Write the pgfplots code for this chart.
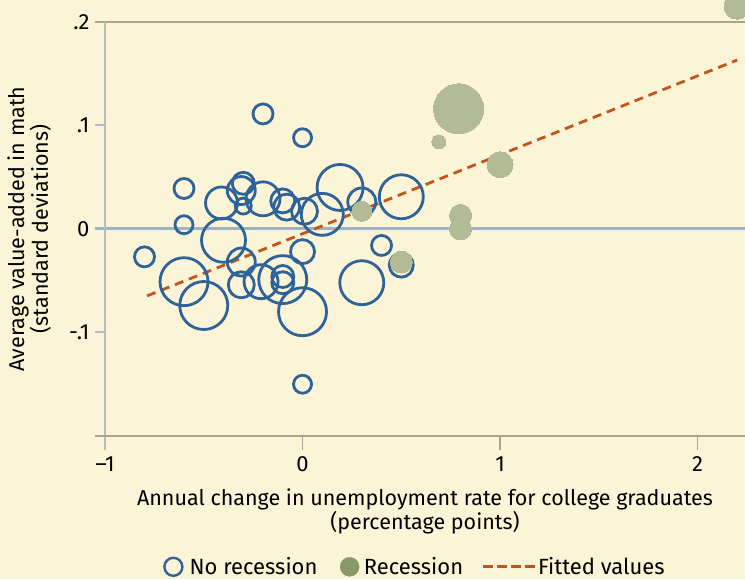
\documentclass[border=0pt]{standalone}
\usepackage{pgfplots}
\pgfplotsset{compat=1.18}
\usepackage{fontspec}
\setmainfont{Fira Sans}
\definecolor{bg}{HTML}{FCF4D6}
\definecolor{cblue}{HTML}{2E6399}
\definecolor{gfill}{HTML}{B3BB96}
\definecolor{lgreen}{HTML}{87996A}
\definecolor{fitc}{HTML}{C0561C}
\definecolor{ygray}{HTML}{B4BDBF}
\definecolor{xgray}{HTML}{A8A598}
\definecolor{zgray}{HTML}{9DB2C4}

\pgfplotstableread{
x y r
-0.20 0.111 10
0.00 0.088 9
-0.60 0.039 10
-0.60 0.004 9
-0.80 -0.027 10
-0.41 0.025 16
-0.30 0.044 11
-0.31 0.037 14
-0.30 0.022 8
-0.20 0.029 17
-0.10 0.027 12
-0.08 0.021 13
0.01 0.017 13
0.10 0.014 21
0.19 0.040 23
0.30 0.026 14
0.50 0.031 22
-0.40 -0.011 22
-0.60 -0.051 24
-0.50 -0.074 24
-0.31 -0.032 14
-0.31 -0.054 13
-0.21 -0.051 17
-0.10 -0.049 24
-0.10 -0.046 11
-0.10 -0.052 11
0.00 -0.022 12
0.00 -0.080 24
0.30 -0.052 22
0.40 -0.016 10
0.50 -0.035 12
0.00 -0.150 9
}\norec

\pgfplotstableread{
x y r
0.30 0.017 10
0.50 -0.032 11
0.79 0.116 25
0.69 0.084 7
1.00 0.062 13
0.80 0.013 11
0.80 0.000 11
2.20 0.215 13
}\rec

\begin{document}
\begin{tikzpicture}
\fill[bg] (-105pt,-143pt) rectangle (640pt,436pt);
\begin{axis}[
  scale only axis, width=640pt, height=436pt,
  xmin=-1, xmax=2.24, ymin=-0.2, ymax=0.221,
  clip=false,
  axis line style={draw=none},
  tick style={draw=none},
  major tick length=0pt,
  xtick={-1,0,1,2}, xticklabels={–1,0,1,2},
  ytick={-0.1,0,0.1,0.2}, yticklabels={-.1,0,.1,.2},
  /pgf/number format/assume math mode=true,
  ticklabel style={font=\fontsize{22}{22}\selectfont},
  yticklabel style={xshift=-12pt},
  xticklabel style={yshift=-17pt},
  xlabel={Annual change in unemployment rate for college graduates\\(percentage points)},
  xlabel style={at={(axis description cs:0.5,0)}, anchor=north, yshift=-49pt, align=center, font=\fontsize{21.5}{22.5}\selectfont},
  ylabel={Average value-added in math\\(standard deviations)},
  ylabel style={at={(axis description cs:-0.079,0.475)}, anchor=south, align=center, font=\fontsize{21.5}{21}\selectfont},
  legend columns=3,
  legend style={at={(axis description cs:0.0906,-0.300)}, anchor=west, draw=none, fill=none, inner sep=0pt,
    font=\fontsize{22}{22}\selectfont,
    /tikz/every even column/.append style={column sep=16pt},
    /tikz/every odd column/.append style={column sep=0pt}},
]
% reference lines and axes
\draw[xgray, line width=2pt] ([xshift=-10pt]axis cs:-1,0.2) -- (axis cs:2.24,0.2);
\draw[zgray, line width=3pt] ([xshift=-10pt]axis cs:-1,0) -- (axis cs:2.24,0);
\draw[ygray, line width=2pt] (axis cs:-1,0.2) -- ([yshift=-14pt]axis cs:-1,-0.2);
\draw[ygray, line width=2pt] (axis cs:-1,0.1) -- ([xshift=-10pt]axis cs:-1,0.1);
\draw[ygray, line width=2pt] (axis cs:-1,-0.1) -- ([xshift=-10pt]axis cs:-1,-0.1);
\draw[xgray, line width=2pt] ([xshift=-10pt]axis cs:-1,-0.2) -- (axis cs:2.24,-0.2);
\draw[xgray, line width=1.5pt] (axis cs:0,-0.2) -- ([yshift=-14pt]axis cs:0,-0.2);
\draw[xgray, line width=1.5pt] (axis cs:1,-0.2) -- ([yshift=-14pt]axis cs:1,-0.2);
\draw[xgray, line width=1.5pt] (axis cs:2,-0.2) -- ([yshift=-14pt]axis cs:2,-0.2);

\addlegendimage{legend image code/.code={\draw[cblue, line width=2.4pt] (9pt,0pt) circle (9pt); \path (23pt,0pt);}}
\addlegendentry{No recession}
\addlegendimage{legend image code/.code={\path (-5pt,0pt); \fill[lgreen] (9pt,0pt) circle (9.5pt); \path (21pt,0pt);}}
\addlegendentry{Recession}
\addlegendimage{legend image code/.code={\draw[fitc, line width=3pt, dash pattern=on 10pt off 4pt] (0pt,0pt) -- (52pt,0pt);}}
\addlegendentry{Fitted values}

\addplot[scatter, only marks, mark=o, line width=2.8pt, forget plot,
  scatter/use mapped color={draw=cblue, fill=none},
  visualization depends on={\thisrow{r} \as \prad},
  scatter/@pre marker code/.append style={/tikz/mark size=\prad pt}]
  table[x=x, y=y] {\norec};
\addplot[scatter, only marks, mark=*, line width=0pt, forget plot,
  scatter/use mapped color={draw=gfill, fill=gfill},
  visualization depends on={\thisrow{r} \as \prad},
  scatter/@pre marker code/.append style={/tikz/mark size=\prad pt}]
  table[x=x, y=y] {\rec};
\addplot[fitc, line width=2.8pt, dash pattern=on 9pt off 6pt, forget plot]
  coordinates {(-0.787,-0.0647) (2.20,0.163)};
\end{axis}
\pgfresetboundingbox
\path[use as bounding box] (-105pt,-143pt) rectangle (640pt,436pt);
\end{tikzpicture}
\end{document}
